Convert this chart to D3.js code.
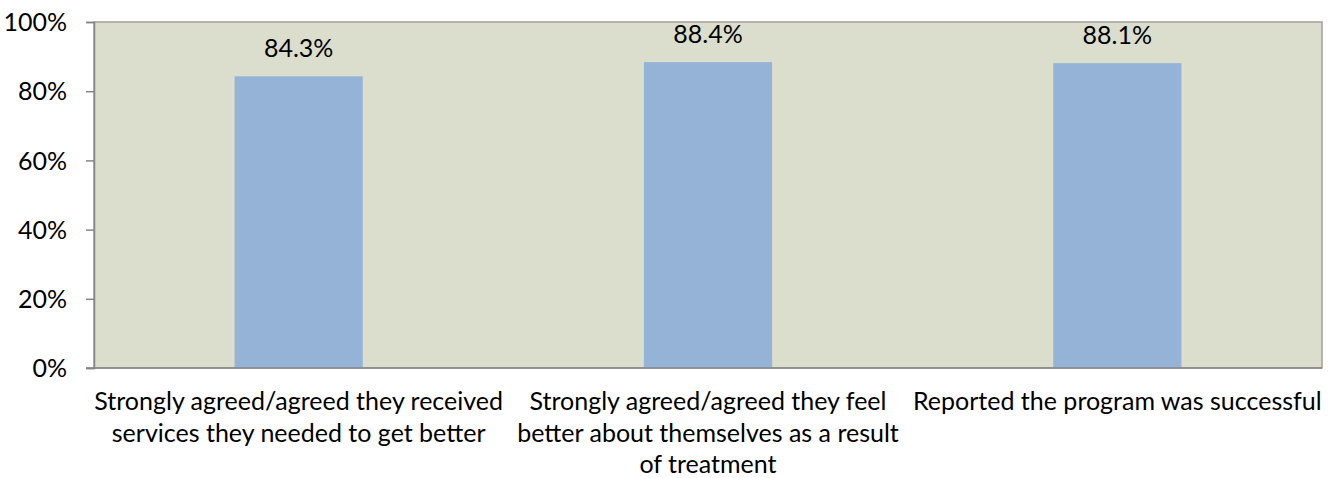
<!DOCTYPE html>
<html><head><meta charset="utf-8">
<script src="https://cdn.jsdelivr.net/npm/d3@7"></script>
<style>body{margin:0;background:#fff}svg{display:block}text{font-family:Lato,"Open Sans",sans-serif;fill:#000}</style>
</head><body>
<svg id="c" width="1332" height="478"></svg>
<script>
const categories = [
  ["Strongly agreed/agreed they received", "services they needed to get better"],
  ["Strongly agreed/agreed they feel", "better about themselves as a result", "of treatment"],
  ["Reported the program was successful"]
];
const values = [0.843, 0.884, 0.881];
const valueLabels = ["84.3%", "88.4%", "88.1%"];
const yTicks = [0, 0.2, 0.4, 0.6, 0.8, 1.0];

const svg = d3.select("#c");
const m = {left: 94, top: 22, right: 1322, bottom: 368};
const x = d3.scaleBand().domain(d3.range(categories.length)).range([m.left, m.right]).paddingInner(0).paddingOuter(0);
const y = d3.scaleLinear().domain([0, 1]).range([m.bottom, m.top]);
const fs = 25;

svg.append("rect").attr("x", m.left).attr("y", m.top).attr("width", m.right - m.left).attr("height", m.bottom - m.top)
  .attr("fill", "#DBDDCD").attr("stroke", "#A39D99").attr("stroke-width", 1.5);

const bw = x.bandwidth() * 0.313;
svg.selectAll("rect.bar").data(values).join("rect").attr("class", "bar")
  .attr("x", (d, i) => x(i) + x.bandwidth() / 2 - bw / 2)
  .attr("width", bw)
  .attr("y", d => y(d))
  .attr("height", d => y(0) - y(d))
  .attr("fill", "#95B3D7");

svg.selectAll("text.vl").data(values).join("text").attr("class", "vl")
  .attr("x", (d, i) => x(i) + x.bandwidth() / 2)
  .attr("y", d => y(d) - 19)
  .attr("text-anchor", "middle").attr("font-size", fs)
  .text((d, i) => valueLabels[i]);

const yAxis = d3.axisLeft(y).tickValues(yTicks).tickFormat(d3.format(".0%")).tickSize(8).tickPadding(19);
const ga = svg.append("g").attr("transform", `translate(${m.left},0)`).call(yAxis);
ga.select(".domain").attr("stroke", "#868686").attr("stroke-width", 1.5);
ga.selectAll(".tick line").attr("stroke", "#868686").attr("stroke-width", 1.5);
ga.selectAll(".tick text").attr("font-size", fs).attr("font-family", "Lato").attr("fill", "#000").attr("dy", "0.35em");

svg.append("line").attr("x1", m.left - 8).attr("x2", m.right).attr("y1", m.bottom).attr("y2", m.bottom)
  .attr("stroke", "#868686").attr("stroke-width", 1.5);

categories.forEach((lines, i) => {
  const t = svg.append("text").attr("text-anchor", "middle").attr("font-size", fs)
    .attr("x", x(i) + x.bandwidth() / 2).attr("y", 410);
  lines.forEach((l, j) => t.append("tspan").attr("x", x(i) + x.bandwidth() / 2).attr("y", 410 + j * 31.5).text(l));
});
</script>
</body></html>
